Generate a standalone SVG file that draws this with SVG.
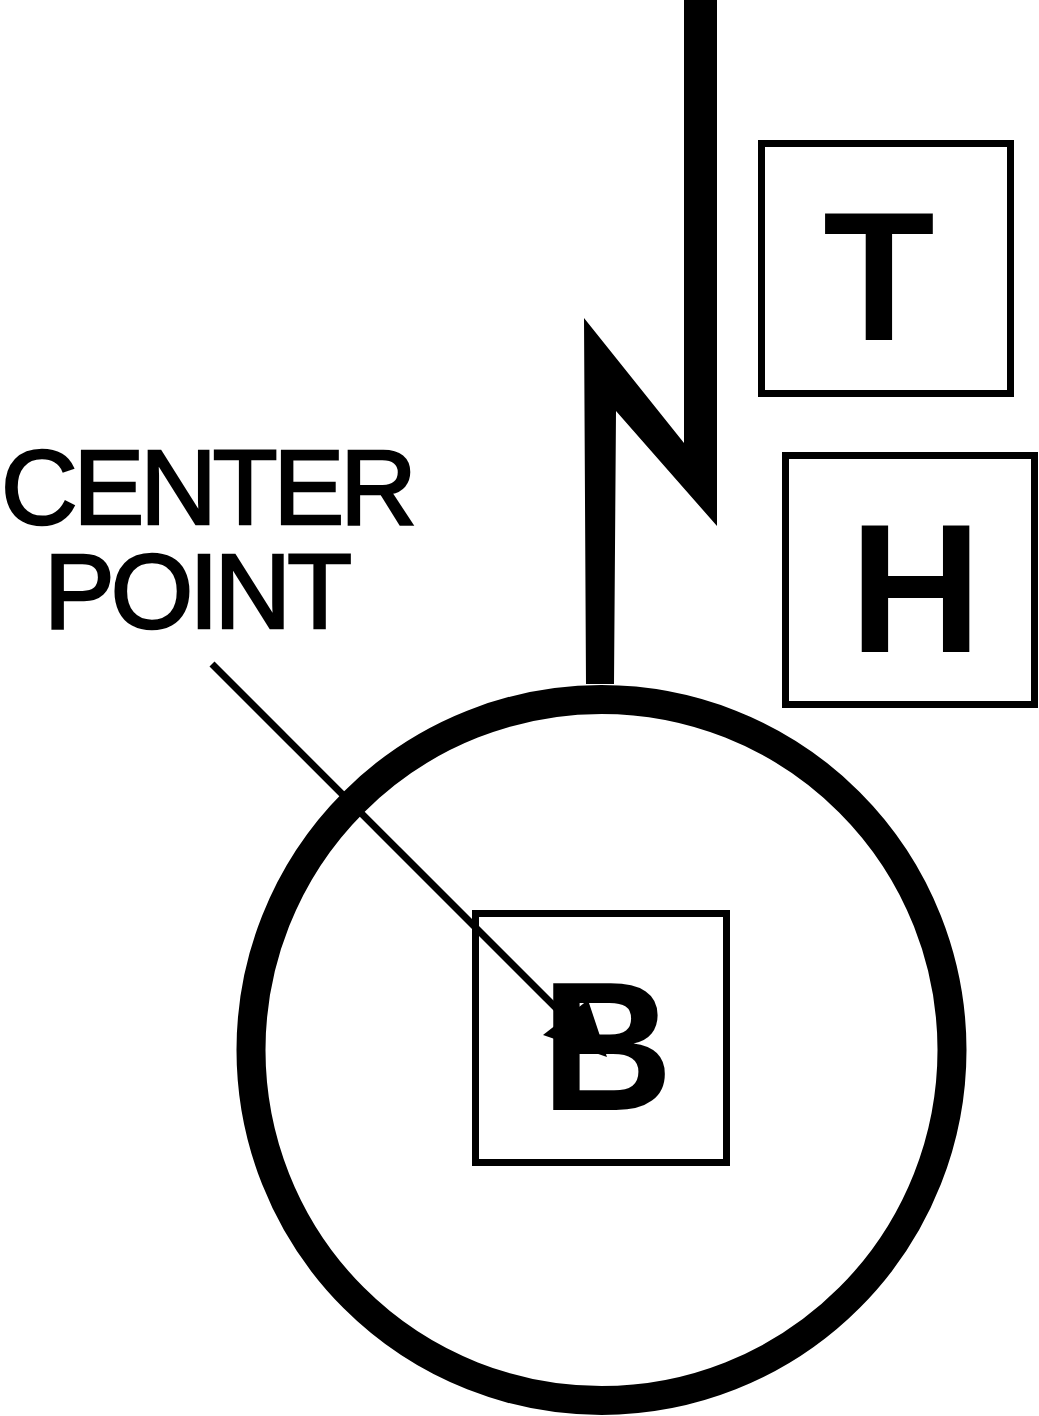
<svg xmlns="http://www.w3.org/2000/svg" width="1039" height="1416" viewBox="0 0 1039 1416">
<style>
.box{fill:none;stroke:#000;stroke-width:7}
.big{font-family:"Liberation Sans",Arial,sans-serif;font-weight:bold;font-size:183px;fill:#000;text-anchor:middle}
.lbl{font-family:"Liberation Sans",Arial,sans-serif;font-size:106px;fill:#000;stroke:#000;stroke-width:2.6px;letter-spacing:-4px}
</style>
<rect width="1039" height="1416" fill="#fff"/>
<g id="north-arrow">
<polygon points="584,318 684,443 684,0 717,0 717,526 616,411 614,684 586,684" fill="#000"/>
</g>
<g id="circle">
<circle cx="601.5" cy="1050" r="350.5" fill="none" stroke="#000" stroke-width="29"/>
</g>
<g id="node-T">
<rect class="box" x="761.5" y="143.5" width="249" height="250"/>
<text class="big" x="879" y="340">T</text>
</g>
<g id="node-H">
<rect class="box" x="785.5" y="455.5" width="249" height="249"/>
<text class="big" x="915.5" y="652">H</text>
</g>
<g id="connectors">
<line x1="212" y1="664" x2="568" y2="1020" stroke="#000" stroke-width="7"/>
<polygon points="607,1057 588,1000 543,1035" fill="#000"/>
</g>
<g id="node-B">
<rect class="box" x="475.5" y="913.5" width="251" height="249"/>
<text class="big" x="607" y="1110">B</text>
</g>
<g id="label-center-point">
<text class="lbl" x="1" y="524">CENTER</text>
<text class="lbl" x="44" y="628">POINT</text>
</g>
</svg>
